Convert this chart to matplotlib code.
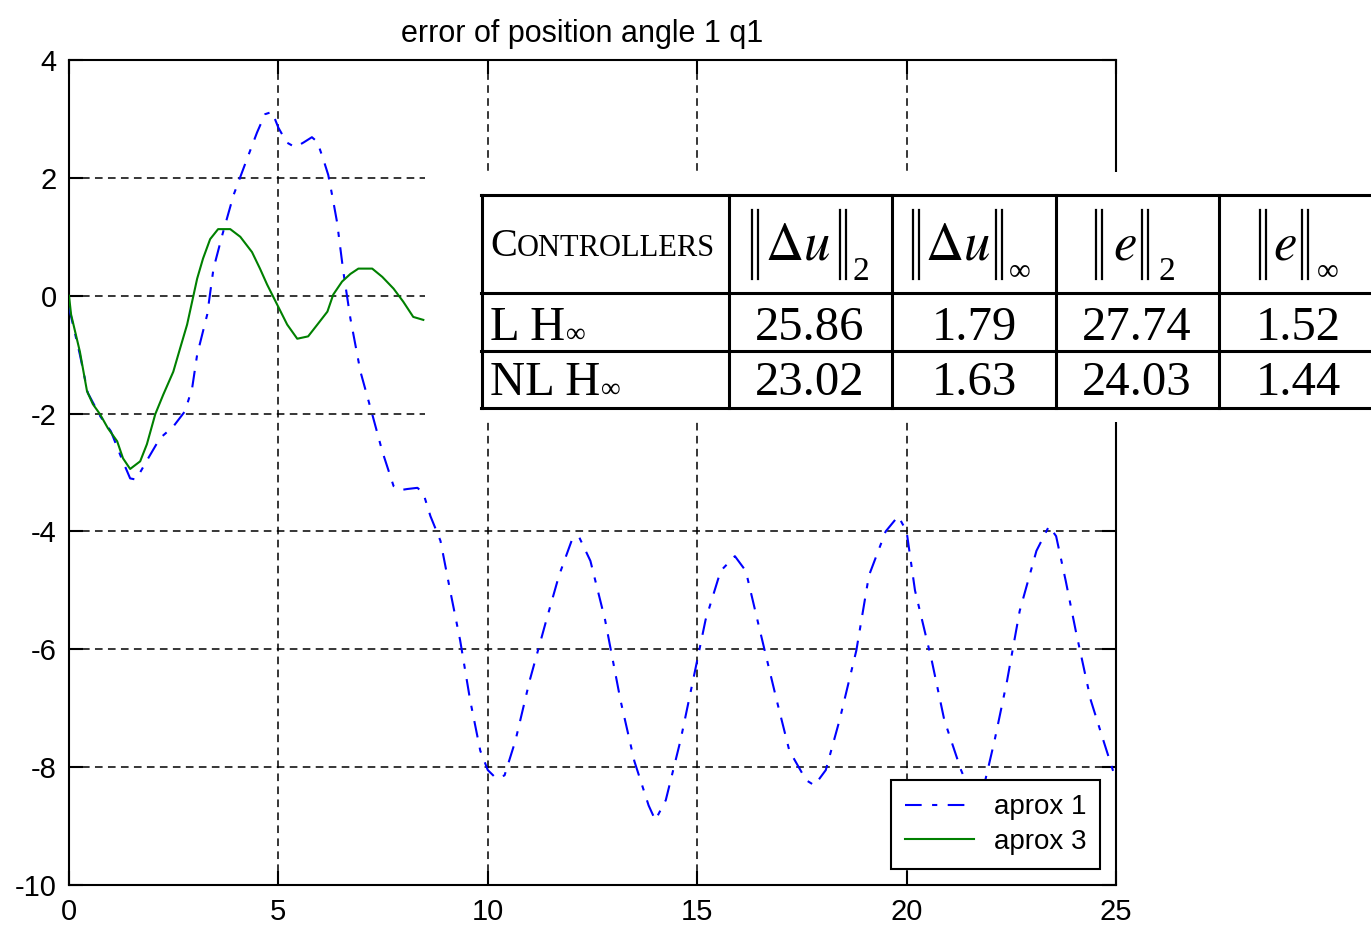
import matplotlib
matplotlib.use("Agg")
import matplotlib.pyplot as plt
from matplotlib.lines import Line2D
from matplotlib.patches import Rectangle

# ---------------- data ----------------
title = "error of position angle 1 q1"
series_names = ["aprox 1", "aprox 3"]

x_aprox1 = [0.0, 0.26, 0.45, 0.75, 1.0, 1.25, 1.46, 1.6, 1.89, 2.17, 2.49, 2.77, 2.94, 3.06,
            3.30, 3.45, 3.66, 3.93, 4.25, 4.49, 4.68, 4.85, 5.0, 5.2, 5.4, 5.6, 5.8, 5.93,
            6.07, 6.19, 6.29, 6.40, 6.55, 6.72, 6.96, 7.24, 7.48, 7.75, 7.9, 8.08, 8.32,
            8.46, 8.63, 8.87, 9.1, 9.34, 9.58, 9.82, 10.0, 10.2, 10.4, 10.66, 11.0, 11.4,
            11.7, 12.0, 12.17, 12.45, 12.8, 13.17, 13.5, 13.84, 14.0, 14.25, 14.6, 14.9,
            15.2, 15.56, 15.9, 16.16, 16.5, 16.9, 17.2, 17.6, 17.8, 18.07, 18.4, 18.8,
            19.1, 19.5, 19.8, 20.0, 20.2, 20.6, 20.9, 21.3, 21.5, 21.85, 22.1, 22.4, 22.7,
            23.1, 23.4, 23.57, 23.8, 24.04, 24.4, 24.7, 25.0]
y_aprox1 = [-0.2, -1.0, -1.65, -2.05, -2.3, -2.75, -3.1, -3.12, -2.76, -2.42, -2.22, -1.96,
            -1.57, -1.0, -0.32, 0.46, 1.03, 1.71, 2.32, 2.77, 3.08, 3.12, 2.85, 2.6, 2.52,
            2.6, 2.69, 2.61, 2.32, 2.05, 1.68, 1.25, 0.41, -0.39, -1.29, -2.01, -2.64,
            -3.23, -3.3, -3.28, -3.26, -3.35, -3.74, -4.16, -5.0, -5.85, -6.87, -7.72,
            -8.05, -8.19, -8.14, -7.55, -6.53, -5.5, -4.75, -4.16, -4.08, -4.5, -5.5,
            -6.87, -7.9, -8.65, -8.9, -8.56, -7.55, -6.53, -5.5, -4.67, -4.42, -4.67,
            -5.69, -6.87, -7.72, -8.22, -8.31, -8.05, -7.2, -6.02, -4.75, -4.0, -3.74,
            -4.0, -5.0, -6.19, -7.2, -8.05, -8.39, -8.31, -7.55, -6.53, -5.35, -4.33,
            -3.91, -4.08, -4.84, -5.69, -6.87, -7.55, -8.22]

x_aprox3 = [0.0, 0.05, 0.26, 0.43, 0.57, 0.74, 0.93, 1.15, 1.29, 1.46, 1.70, 1.86, 2.06,
            2.25, 2.49, 2.65, 2.82, 2.94, 3.06, 3.2, 3.37, 3.56, 3.85, 4.09, 4.37, 4.56,
            4.73, 4.97, 5.21, 5.45, 5.71, 5.93, 6.17, 6.31, 6.52, 6.72, 6.91, 7.24, 7.48,
            7.75, 7.98, 8.22, 8.46]
y_aprox3 = [0.0, -0.32, -0.95, -1.62, -1.84, -2.01, -2.25, -2.47, -2.76, -2.94, -2.81,
            -2.52, -2.01, -1.68, -1.29, -0.9, -0.49, -0.1, 0.29, 0.63, 0.96, 1.13, 1.13,
            1.0, 0.74, 0.46, 0.19, -0.15, -0.49, -0.73, -0.69, -0.49, -0.27, 0.02, 0.24,
            0.37, 0.46, 0.46, 0.32, 0.12, -0.10, -0.36, -0.41]

xticks = [0, 5, 10, 15, 20, 25]
yticks = [-10, -8, -6, -4, -2, 0, 2, 4]

table_rows = ["L H", "NL H"]
table_header = "CONTROLLERS"
du2 = ["25.86", "23.02"]
duinf = ["1.79", "1.63"]
e2 = ["27.74", "24.03"]
einf = ["1.52", "1.44"]

# ---------------- style ----------------
sans = "Liberation Sans"
serif = "Liberation Serif"
plt.rcParams["axes.unicode_minus"] = False
plt.rcParams["mathtext.fontset"] = "stix"

W, H = 1371, 926
fig = plt.figure(figsize=(W / 100, H / 100), dpi=100)
ax = fig.add_axes([69 / W, 1 - 885 / H, (1116 - 69) / W, (885 - 60) / H])

ax.plot(x_aprox1, y_aprox1, color=(0, 0, 1), lw=1.5, linestyle=(0, (8, 5, 2.5, 5)),
        label=series_names[0], zorder=3)
ax.plot(x_aprox3, y_aprox3, color=(0, 0.5, 0), lw=1.5, label=series_names[1], zorder=3)

ax.set_xlim(0, 25)
ax.set_ylim(-10, 4)
ax.set_xticks(xticks)
ax.set_yticks(yticks)
ax.set_xticklabels([str(v) for v in xticks], family=sans, size=21)
ax.set_yticklabels([str(v) for v in yticks], family=sans, size=21)
ax.tick_params(direction="in", length=10, width=1.5, top=True, right=True, pad=9)
ax.grid(True, color="k", linestyle=(0, (5, 3.5)), linewidth=1.1)
ax.set_axisbelow(True)
for s in ax.spines.values():
    s.set_linewidth(1.5)
ax.set_title(title, family=sans, size=22, pad=13, x=0.49)

leg = ax.legend(loc="lower right", bbox_to_anchor=(0.985, 0.02), borderaxespad=0,
                fancybox=False, framealpha=1, edgecolor="k",
                prop={"family": sans, "size": 20}, handlelength=2.5, handletextpad=0.7,
                borderpad=0.5, labelspacing=0.3)
leg.get_frame().set_linewidth(1.5)
leg.set_zorder(6)

# ---------------- overlaid table ----------------
def fx(px):
    return px / W

def fy(py):
    return 1 - py / H

fig.add_artist(Rectangle((fx(425), fy(422)), fx(1371) - fx(425), fy(172) - fy(422),
                         transform=fig.transFigure, fc="white", ec="none", zorder=10))

tlw = 2.2
for yy in [195, 293, 351, 408]:
    fig.add_artist(Line2D([fx(481), fx(1371)], [fy(yy), fy(yy)], color="k", lw=tlw,
                          transform=fig.transFigure, zorder=11))
for xx in [482, 729, 892, 1056, 1219]:
    fig.add_artist(Line2D([fx(xx), fx(xx)], [fy(195), fy(408)], color="k", lw=tlw,
                          transform=fig.transFigure, zorder=11))

def ftext(px, py, s, **kw):
    kw.setdefault("zorder", 12)
    return fig.text(fx(px), fy(py), s, **kw)

# header: small caps
ftext(490, 256, table_header[0], family=serif, size=29, va="baseline")
ftext(517, 256, table_header[1:], family=serif, size=22, va="baseline")

# header norms
hdr = [
    (752, 758, r"$\Delta u$", 798, 840, 846, "2", 852),
    (913, 919, r"$\Delta u$", 958, 996, 1002, "\u221e", 1009),
    (1096, 1102, r"$e$", 1125, 1142, 1148, "2", 1158),
    (1260, 1266, r"$e$", 1285, 1302, 1308, "\u221e", 1317),
]
for lb1, lb2, content, cx, rb1, rb2, sub, sx in hdr:
    for bx in (lb1, lb2, rb1, rb2):
        fig.add_artist(Line2D([fx(bx), fx(bx)], [fy(210), fy(279)], color="k", lw=1.6,
                              transform=fig.transFigure, zorder=12))
    ftext(cx, 259, content, size=38, ha="center", va="baseline")
    ftext(sx, 280, sub, family=serif, size=24 if sub == "2" else 22, va="baseline")

# row labels, with the subscript infinity placed right after the rendered text
row_base = [340, 395]
fig.canvas.draw()
renderer = fig.canvas.get_renderer()
for lab, yb in zip(table_rows, row_base):
    t = ftext(490, yb, lab, family=serif, size=35, va="baseline")
    bb = t.get_window_extent(renderer=renderer)
    ftext(bb.x1 + 1, yb + 2, "\u221e", family=serif, size=20, va="baseline")

col_centers = [810, 974, 1137, 1298]
for ci, col in enumerate([du2, duinf, e2, einf]):
    for ri, val in enumerate(col):
        ftext(col_centers[ci], row_base[ri], val, family=serif, size=35,
              ha="center", va="baseline")

fig.savefig("out.png", dpi=100)
